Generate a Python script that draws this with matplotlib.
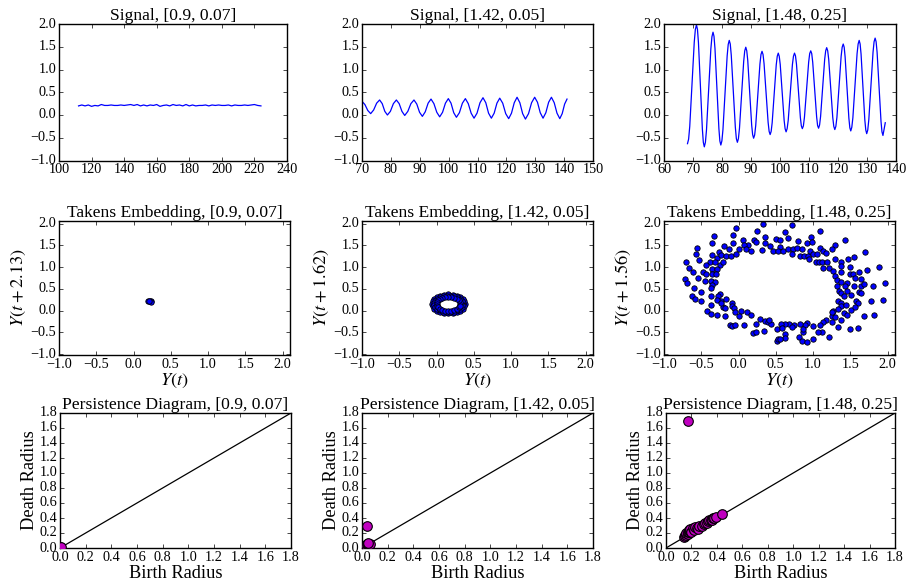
import numpy as np
import matplotlib
matplotlib.use("Agg")
import matplotlib.pyplot as plt
from matplotlib.ticker import MultipleLocator, FuncFormatter

# ---------------- data ----------------
params = ["[0.9, 0.07]", "[1.42, 0.05]", "[1.48, 0.25]"]
delays = ["2.13", "1.62", "1.56"]

sig1_t = [112, 114, 116, 118, 120, 122, 124, 126, 128, 130, 132, 134, 136, 138, 140,
          142, 144, 146, 148, 150, 152, 154, 156, 158, 160, 162, 164, 166, 168, 170,
          172, 174, 176, 178, 180, 182, 184, 186, 188, 190, 192, 194, 196, 198, 200,
          202, 204, 206, 208, 210, 212, 214, 216, 218, 220, 222, 224]
sig1_y = [0.20, 0.22, 0.20, 0.22, 0.19, 0.21, 0.20, 0.23, 0.21, 0.21, 0.22, 0.21, 0.21, 0.22, 0.21,
          0.22, 0.23, 0.21, 0.23, 0.20, 0.22, 0.20, 0.22, 0.21, 0.23, 0.19, 0.21, 0.22, 0.20, 0.23,
          0.21, 0.22, 0.20, 0.23, 0.20, 0.22, 0.20, 0.21, 0.21, 0.22, 0.20, 0.22, 0.21, 0.22, 0.21,
          0.21, 0.22, 0.20, 0.22, 0.21, 0.21, 0.22, 0.21, 0.22, 0.23, 0.21, 0.20]

sig2_t = [70.0,
          71.0, 72.0, 73.0, 74.03, 75.07, 76.1, 77.0, 77.9, 78.8, 79.83, 80.87, 81.9,
          82.87, 83.83, 84.8, 85.87, 86.93, 88.0, 88.97, 89.93, 90.9, 91.9, 92.9, 93.9,
          94.9, 95.9, 96.9, 97.9, 98.9, 99.9, 100.83, 101.77, 102.7, 103.73, 104.77, 105.8,
          106.8, 107.8, 108.8, 109.83, 110.87, 111.9, 112.87, 113.83, 114.8, 115.77, 116.73, 117.7,
          118.73, 119.77, 120.8, 121.77, 122.73, 123.7, 124.67, 125.63, 126.6, 127.67, 128.73, 129.8,
          130.77, 131.73, 132.7, 133.67, 134.63, 135.6, 136.57, 137.53, 138.5, 139.33, 140.17, 141.0]
sig2_y = [0.30,
          0.23, 0.10, 0.03, 0.11, 0.26, 0.33, 0.25, 0.08, 0.00, 0.08, 0.25, 0.33,
          0.25, 0.08, -0.01, 0.08, 0.25, 0.33, 0.24, 0.06, -0.03, 0.07, 0.26, 0.35,
          0.25, 0.06, -0.04, 0.06, 0.26, 0.36, 0.26, 0.05, -0.05, 0.05, 0.26, 0.36,
          0.25, 0.04, -0.07, 0.04, 0.27, 0.38, 0.27, 0.04, -0.07, 0.04, 0.26, 0.37,
          0.26, 0.03, -0.08, 0.04, 0.27, 0.39, 0.27, 0.03, -0.09, 0.03, 0.27, 0.39,
          0.28, 0.05, -0.07, 0.05, 0.28, 0.39, 0.27, 0.04, -0.08, 0.03, 0.24, 0.35]

sig3_t = [68.1,
          68.49, 68.88, 69.65, 70.43, 70.81, 71.2,
          71.54, 71.88, 72.55, 73.23, 73.56, 73.9,
          74.28, 74.65, 75.4, 76.15, 76.53, 76.9,
          77.24, 77.58, 78.25, 78.93, 79.26, 79.6,
          79.96, 80.33, 81.05, 81.78, 82.14, 82.5,
          82.85, 83.2, 83.9, 84.6, 84.95, 85.3,
          85.66, 86.03, 86.75, 87.48, 87.84, 88.2,
          88.54, 88.88, 89.55, 90.23, 90.56, 90.9,
          91.26, 91.63, 92.35, 93.08, 93.44, 93.8,
          94.15, 94.5, 95.2, 95.9, 96.25, 96.6,
          96.95, 97.3, 98.0, 98.7, 99.05, 99.4,
          99.74, 100.08, 100.75, 101.43, 101.76, 102.1,
          102.46, 102.83, 103.55, 104.28, 104.64, 105.0,
          105.34, 105.68, 106.35, 107.03, 107.36, 107.7,
          108.06, 108.43, 109.15, 109.88, 110.24, 110.6,
          110.94, 111.28, 111.95, 112.63, 112.96, 113.3,
          113.65, 114.0, 114.7, 115.4, 115.75, 116.1,
          116.45, 116.8, 117.5, 118.2, 118.55, 118.9,
          119.26, 119.63, 120.35, 121.08, 121.44, 121.8,
          122.13, 122.45, 123.1, 123.75, 124.08, 124.4,
          124.76, 125.13, 125.85, 126.58, 126.94, 127.3,
          127.63, 127.95, 128.6, 129.25, 129.58, 129.9,
          130.26, 130.63, 131.35, 132.08, 132.44, 132.8,
          133.14, 133.48, 134.15, 134.83, 135.16, 135.5,
          136.3]
sig3_y = [-0.63,
          -0.53, -0.25, 0.68, 1.60, 1.88, 1.98,
          1.88, 1.59, 0.64, -0.31, -0.60, -0.70,
          -0.60, -0.33, 0.56, 1.45, 1.72, 1.82,
          1.73, 1.46, 0.58, -0.30, -0.57, -0.66,
          -0.57, -0.32, 0.49, 1.30, 1.55, 1.64,
          1.56, 1.31, 0.52, -0.27, -0.52, -0.60,
          -0.52, -0.29, 0.45, 1.18, 1.41, 1.49,
          1.41, 1.20, 0.49, -0.22, -0.43, -0.51,
          -0.44, -0.23, 0.45, 1.12, 1.33, 1.40,
          1.33, 1.13, 0.49, -0.16, -0.36, -0.43,
          -0.36, -0.17, 0.47, 1.10, 1.29, 1.36,
          1.29, 1.11, 0.50, -0.12, -0.30, -0.37,
          -0.30, -0.12, 0.50, 1.11, 1.29, 1.36,
          1.30, 1.12, 0.53, -0.06, -0.24, -0.30,
          -0.24, -0.05, 0.56, 1.16, 1.35, 1.41,
          1.35, 1.16, 0.56, -0.04, -0.23, -0.29,
          -0.22, -0.03, 0.60, 1.22, 1.41, 1.48,
          1.41, 1.22, 0.58, -0.06, -0.25, -0.32,
          -0.25, -0.05, 0.62, 1.29, 1.49, 1.56,
          1.49, 1.28, 0.61, -0.07, -0.28, -0.35,
          -0.27, -0.06, 0.65, 1.35, 1.56, 1.64,
          1.56, 1.34, 0.62, -0.11, -0.33, -0.41,
          -0.33, -0.10, 0.64, 1.38, 1.61, 1.69,
          1.61, 1.38, 0.62, -0.14, -0.37, -0.45,
          -0.17]

# Takens embeddings
tk1_x = [0.20, 0.22, 0.24, 0.23, 0.21]
tk1_y = [0.21, 0.23, 0.21, 0.19, 0.22]

tk2_x = [0.38, 0.37, 0.35, 0.32, 0.27, 0.22, 0.16, 0.10, 0.05, 0.00, -0.03, -0.05,
         -0.06, -0.05, -0.03, 0.00, 0.05, 0.10, 0.16, 0.22, 0.27, 0.32, 0.35, 0.37,
         0.348, 0.336, 0.311, 0.276, 0.233, 0.185, 0.135, 0.087, 0.044, 0.009, -0.016, -0.028,
         -0.028, -0.016, 0.009, 0.044, 0.087, 0.135, 0.185, 0.233, 0.276, 0.311, 0.336, 0.348,
         0.32, 0.315, 0.30, 0.27, 0.24, 0.20, 0.16, 0.12, 0.08, 0.05, 0.02, 0.005,
         0.00, 0.005, 0.02, 0.05, 0.08, 0.12, 0.16, 0.20, 0.24, 0.27, 0.30, 0.315]
tk2_y = [0.155, 0.21, 0.265, 0.31, 0.345, 0.37, 0.375, 0.37, 0.345, 0.31, 0.265, 0.21,
         0.155, 0.10, 0.045, 0.00, -0.035, -0.06, -0.065, -0.06, -0.035, 0.00, 0.045, 0.10,
         0.18, 0.228, 0.271, 0.306, 0.331, 0.343, 0.343, 0.331, 0.306, 0.271, 0.228, 0.18,
         0.13, 0.082, 0.039, 0.004, -0.021, -0.033, -0.033, -0.021, 0.004, 0.039, 0.082, 0.13,
         0.155, 0.195, 0.235, 0.27, 0.29, 0.31, 0.315, 0.31, 0.29, 0.27, 0.235, 0.195,
         0.155, 0.115, 0.075, 0.04, 0.02, 0.00, -0.005, 0.00, 0.02, 0.04, 0.075, 0.115]

tk3_x = [0.33, -0.03, 0.25, -0.33, 0.35, 0.50, -0.07, -0.36, -0.07, -0.19,
         0.06, 0.21, 0.13, 0.08, 0.24, 0.42, 0.35, -0.56, -0.57, -0.26,
         -0.13, 0.00, -0.36, -0.29, -0.23, -0.17, -0.10, -0.03, 0.10, 0.17,
         0.31, 0.46, -0.53, -0.38, -0.31, -0.25, -0.70, -0.67, -0.61, -0.35,
         -0.29, -0.21, -0.43, -0.47, -0.43, -0.36, -0.30, -0.72, -0.54, -0.45,
         -0.69, -0.37, -0.31, -0.35, -0.60, -0.50, -0.62, -0.58, -0.37, -0.37,
         -0.25, -0.27, -0.23, -0.29, -0.17, -0.50, -0.375, -0.21, -0.23, -0.09,
         -0.42, -0.375, -0.29, -0.18, -0.09, -0.06, -0.05, -0.18, 0.03, 0.00,
         0.11, 0.17, -0.12, -0.09, -0.05, 0.07, 0.20, 0.24, 0.34, 0.29,
         0.35, 0.40, 0.44, 0.23, 0.51, 0.52, 0.53, 0.41,
         0.72, 0.63, 1.10, 1.43, 0.67, 0.55, 0.97, 0.80, 0.92, 0.98,
         1.29, 1.09, 1.25, 0.56, 0.53, 0.60, 0.66, 0.73, 0.79, 0.85,
         0.72, 0.83, 0.88, 0.93, 0.96, 1.00, 1.05, 1.14, 1.17, 1.70,
         0.95, 1.04, 1.08, 1.12, 1.19, 1.30, 1.38, 1.47, 1.55, 1.13,
         1.21, 1.27, 1.38, 1.50, 1.88, 1.29, 1.38, 1.50, 1.54, 1.62,
         1.72, 1.32, 1.38, 1.45, 1.56, 1.64, 1.32, 1.43, 1.55, 1.64,
         1.68, 1.80, 1.97, 1.35, 1.38, 1.46, 1.42, 1.51, 1.62, 1.65,
         1.33, 1.38, 1.37, 1.44, 1.58, 1.61, 1.78, 1.94, 1.27, 1.34,
         1.42, 1.46, 1.51, 1.56, 1.68, 1.82, 1.25, 1.30, 1.38, 1.26,
         1.25, 1.50, 1.61, 1.34, 1.21, 1.12, 1.17, 1.13, 1.09, 1.00,
         0.92, 0.89, 0.82, 0.74, 0.68, 0.63, 0.57, 0.58, 0.62, 0.62,
         0.56, 0.81, 0.85, 0.92, 1.00, 1.06, 0.86, 0.87, 0.72]
tk3_y = [1.98, 1.89, 1.82, 1.72, 1.69, 1.64, 1.74, 1.56, 1.55, 1.49,
         1.63, 1.63, 1.50, 1.51, 1.58, 1.49, 1.56, 1.45, 1.30, 1.35,
         1.41, 1.41, 1.27, 1.22, 1.27, 1.26, 1.26, 1.30, 1.41, 1.37,
         1.40, 1.37, 1.16, 1.11, 1.11, 1.05, 1.11, 0.99, 0.88, 0.95,
         0.95, 1.11, 1.05, 0.88, 0.84, 0.84, 0.84, 0.72, 0.74, 0.69,
         0.63, 0.69, 0.66, 0.59, 0.53, 0.43, 0.34, 0.27, 0.51, 0.34,
         0.38, 0.33, 0.23, 0.25, 0.27, 0.21, 0.13, 0.08, 0.17, 0.17,
         -0.02, -0.08, -0.09, 0.05, 0.10, 0.05, -0.04, -0.12, 0.00, -0.12,
         -0.04, -0.10, -0.33, -0.36, -0.33, -0.33, -0.51, -0.50, -0.47, -0.19,
         -0.23, -0.25, -0.31, -0.31, -0.42, -0.69, -0.65, -0.21,
         1.96, 1.81, 1.83, 1.63, 1.66, 1.62, 1.69, 1.59, 1.56, 1.58,
         1.50, 1.45, 1.41, 1.47, 1.38, 1.37, 1.41, 1.41, 1.43, 1.41,
         1.30, 1.26, 1.26, 1.26, 1.37, 1.30, 1.30, 1.36, 1.32, 1.35,
         1.18, 1.12, 1.11, 1.12, 1.11, 1.18, 1.12, 1.18, 1.24, 0.99,
         0.97, 0.92, 1.03, 1.01, 1.01, 0.80, 0.88, 0.84, 0.84, 0.88,
         0.93, 0.70, 0.66, 0.63, 0.76, 0.72, 0.57, 0.57, 0.57, 0.56,
         0.61, 0.57, 0.63, 0.46, 0.40, 0.46, 0.34, 0.37, 0.43, 0.40,
         0.21, 0.17, 0.10, 0.13, 0.23, 0.17, 0.21, 0.25, -0.02, 0.04,
         -0.05, -0.09, 0.02, 0.08, -0.13, -0.09, -0.12, -0.14, -0.21, -0.27,
         -0.04, -0.42, -0.40, -0.37, -0.61, -0.50, -0.21, -0.27, -0.33, -0.36,
         -0.28, -0.34, -0.31, -0.34, -0.31, -0.31, -0.31, -0.41, -0.54, -0.63,
         -0.66, -0.61, -0.69, -0.71, -0.66, -0.50, -0.50, -0.42, -0.38]

# persistence diagrams (birth, death)
pd1_birth = [0.00, 0.01]
pd1_death = [0.01, 0.02]
pd2_birth = [0.01, 0.02, 0.03, 0.03, 0.04, 0.05, 0.06, 0.05, 0.04]
pd2_death = [0.01, 0.03, 0.02, 0.04, 0.05, 0.06, 0.06, 0.07, 0.29]
pd3_birth = [0.14, 0.15, 0.15, 0.16, 0.16, 0.17, 0.17, 0.18, 0.18, 0.19, 0.19, 0.20,
             0.21, 0.22, 0.23, 0.24, 0.25, 0.26, 0.28, 0.30, 0.31, 0.32, 0.33, 0.34,
             0.35, 0.36, 0.37, 0.38, 0.39, 0.44, 0.17]
pd3_death = [0.15, 0.17, 0.16, 0.18, 0.20, 0.19, 0.22, 0.21, 0.24, 0.23, 0.26, 0.22,
             0.27, 0.24, 0.28, 0.27, 0.26, 0.29, 0.30, 0.32, 0.34, 0.33, 0.36, 0.37,
             0.38, 0.37, 0.40, 0.40, 0.41, 0.45, 1.70]

signals = [(sig1_t, sig1_y), (sig2_t, sig2_y), (sig3_t, sig3_y)]
takens = [(tk1_x, tk1_y), (tk2_x, tk2_y), (tk3_x, tk3_y)]
pds = [(pd1_birth, pd1_death), (pd2_birth, pd2_death), (pd3_birth, pd3_death)]
sig_xlims = [(100, 240), (70, 150), (60, 140)]
sig_xsteps = [20, 10, 10]

# ---------------- style ----------------
plt.style.use("classic")
plt.rcParams.update({
    "font.family": ["Liberation Serif", "DejaVu Serif"],
    "mathtext.fontset": "stix",
    "xtick.labelsize": 10.3,
    "ytick.labelsize": 10.3,
    "xtick.major.size": 3,
    "ytick.major.size": 3,
    "xtick.minor.size": 0,
    "ytick.minor.size": 0,
    "xtick.major.pad": 2,
    "ytick.major.pad": 2,
    "axes.linewidth": 1.0,
    "axes.unicode_minus": True,
})

W, H = 906, 583
fig = plt.figure(figsize=(W / 100, H / 100), dpi=100, facecolor="white")


def box(l, r, t, b):
    return [l / W, 1 - b / H, (r - l) / W, (b - t) / H]


def fmt1(v, pos):
    return ("%.1f" % v).replace("-", "\u2212")


def fmt0(v, pos):
    return ("%d" % round(v)).replace("-", "\u2212")


cols_lr = [[(59, 287), (362, 593), (664, 896)],
           [(59, 290), (362, 593), (664, 895)],
           [(60, 291), (362, 593), (666, 895)]]
rows_tb = [(24, 160.5), (221, 355), (413, 548)]

TFS = 12.6
LFS = 13.2

for j in range(3):
    # signal row
    l, r = cols_lr[0][j]
    t, b = rows_tb[0]
    ax = fig.add_axes(box(l, r, t, b))
    ax.plot(signals[j][0], signals[j][1], color="b", lw=0.9)
    ax.set_xlim(*sig_xlims[j])
    ax.set_ylim(-1.0, 2.0)
    ax.xaxis.set_major_locator(MultipleLocator(sig_xsteps[j]))
    ax.yaxis.set_major_locator(MultipleLocator(0.5))
    ax.xaxis.set_major_formatter(FuncFormatter(fmt0))
    ax.yaxis.set_major_formatter(FuncFormatter(fmt1))
    ax.set_title("Signal, " + params[j], fontsize=TFS, pad=3)

    # takens row
    l, r = cols_lr[1][j]
    t, b = rows_tb[1]
    ax = fig.add_axes(box(l, r, t, b))
    ax.scatter(takens[j][0], takens[j][1], s=15, c="b", edgecolors="k", linewidths=0.6)
    ax.set_xlim(-1.0, 2.1)
    ax.set_ylim(-1.02, 2.06)
    ax.xaxis.set_major_locator(MultipleLocator(0.5))
    ax.yaxis.set_major_locator(MultipleLocator(0.5))
    ax.xaxis.set_major_formatter(FuncFormatter(fmt1))
    ax.yaxis.set_major_formatter(FuncFormatter(fmt1))
    ax.set_title("Takens Embedding, " + params[j], fontsize=TFS, pad=3)
    ax.set_xlabel("$Y(t)$", fontsize=LFS, labelpad=1)
    ax.set_ylabel("$Y(t+" + delays[j] + ")$", fontsize=LFS, labelpad=2)

    # persistence row
    l, r = cols_lr[2][j]
    t, b = rows_tb[2]
    ax = fig.add_axes(box(l, r, t, b))
    ax.plot([0, 1.8], [0, 1.8], color="k", lw=0.9)
    ax.scatter(pds[j][0], pds[j][1], s=48, c="m", edgecolors="k", linewidths=0.8, zorder=3)
    ax.set_xlim(0, 1.8)
    ax.set_ylim(0, 1.8)
    ax.xaxis.set_major_locator(MultipleLocator(0.2))
    ax.yaxis.set_major_locator(MultipleLocator(0.2))
    ax.xaxis.set_major_formatter(FuncFormatter(fmt1))
    ax.yaxis.set_major_formatter(FuncFormatter(fmt1))
    ax.set_title("Persistence Diagram, " + params[j], fontsize=TFS, pad=3)
    ax.set_xlabel("Birth Radius", fontsize=LFS, labelpad=1)
    ax.set_ylabel("Death Radius", fontsize=LFS, labelpad=1)

fig.savefig("out.png", dpi=100, facecolor="white")
